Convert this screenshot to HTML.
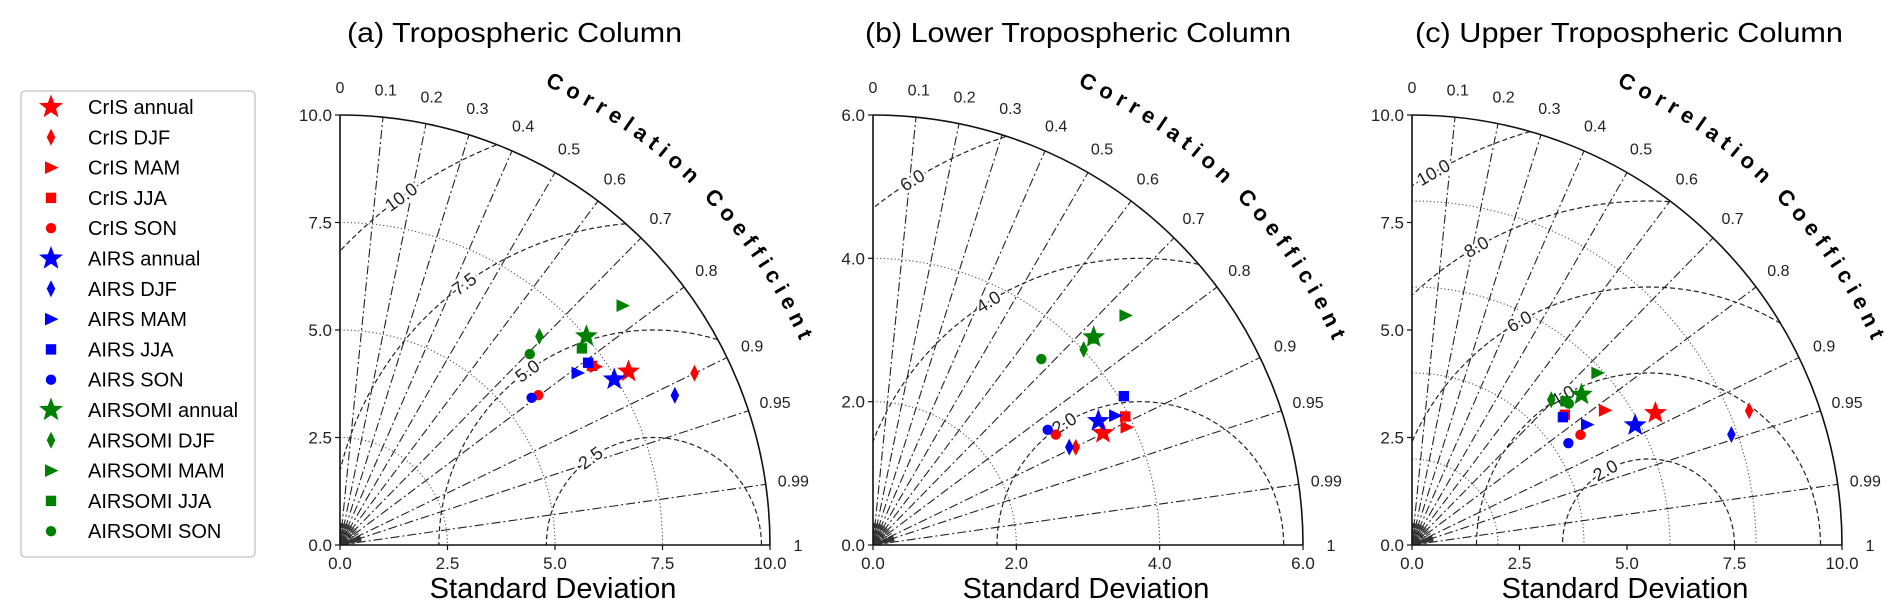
<!DOCTYPE html>
<html><head><meta charset="utf-8">
<style>
html,body{margin:0;padding:0;background:#fff;}
svg{display:block;font-family:"Liberation Sans",Arial,sans-serif;}
</style></head>
<body>
<svg id="fig" width="1892" height="615" viewBox="0 0 1892 615" xmlns="http://www.w3.org/2000/svg">
  <g id="legend">
    <rect x="21" y="91" width="234" height="466" rx="4" fill="#fff" stroke="#cccccc" stroke-width="1.5"/>
  </g>
</svg>
<script>
// ---------- data ----------
const seriesNames = ["CrIS annual","CrIS DJF","CrIS MAM","CrIS JJA","CrIS SON",
  "AIRS annual","AIRS DJF","AIRS MAM","AIRS JJA","AIRS SON",
  "AIRSOMI annual","AIRSOMI DJF","AIRSOMI MAM","AIRSOMI JJA","AIRSOMI SON"];
const seriesColors = ["red","red","red","red","red","blue","blue","blue","blue","blue","green","green","green","green","green"];
const seriesShapes = ["star","diamond","tri","square","circle","star","diamond","tri","square","circle","star","diamond","tri","square","circle"];

// panel (a) Tropospheric Column: standard deviation and correlation
const stdA  = [7.83,9.16,7.25,7.19,5.78, 7.45,8.53,6.82,7.16,5.62, 7.51,6.71,8.61,7.25,6.26];
const corrA = [0.857,0.900,0.820,0.815,0.798, 0.856,0.913,0.810,0.806,0.793, 0.763,0.691,0.763,0.776,0.705];
// panel (b) Lower Tropospheric Column
const stdB  = [3.57,3.14,3.90,3.95,2.98, 3.59,3.06,3.83,4.07,2.92, 4.23,4.01,4.76,4.21,3.50];
const corrB = [0.899,0.901,0.907,0.891,0.856, 0.876,0.895,0.882,0.860,0.835, 0.728,0.733,0.740,0.729,0.671];
// panel (c) Upper Tropospheric Column
const stdC  = [6.44,8.44,5.47,4.67,4.68, 5.89,7.86,4.94,4.60,4.34, 5.27,4.68,5.88,4.89,4.91];
const corrC = [0.879,0.929,0.820,0.761,0.837, 0.881,0.945,0.824,0.763,0.838, 0.748,0.692,0.733,0.730,0.743];

const corrTicks = [0,0.1,0.2,0.3,0.4,0.5,0.6,0.7,0.8,0.9,0.95,0.99,1];
const corrTickLabels = ["0","0.1","0.2","0.3","0.4","0.5","0.6","0.7","0.8","0.9","0.95","0.99","1"];
const stdTicksA = [0,2.5,5,7.5,10];
const stdTicksB = [0,2,4,6];
const stdTicksC = [0,2.5,5,7.5,10];
const stdTickLabelsA = ["0.0","2.5","5.0","7.5","10.0"];
const stdTickLabelsB = ["0.0","2.0","4.0","6.0"];
const stdTickLabelsC = ["0.0","2.5","5.0","7.5","10.0"];
const stdGridA = [2.5,5,7.5];
const stdGridB = [2,4];
const stdGridC = [2,4,6,8];
const rmsLevelsA = [2.5,5,7.5,10];
const rmsLevelsB = [2,4,6];
const rmsLevelsC = [2,4,6,8,10];
const rmsLabelsA = ["2.5","5.0","7.5","10.0"];
const rmsLabelsB = ["2.0","4.0","6.0"];
const rmsLabelsC = ["2.0","4.0","6.0","8.0","10.0"];
const refStdA = 7.3, refStdB = 3.73, refStdC = 5.5;
const titles = ["(a) Tropospheric Column","(b) Lower Tropospheric Column","(c) Upper Tropospheric Column"];

// ---------- drawing ----------
const NS = "http://www.w3.org/2000/svg";
const svg = document.getElementById("fig");
function mk(tag, attrs, parent){
  const e = document.createElementNS(NS, tag);
  for (const k in attrs) e.setAttribute(k, attrs[k]);
  (parent||svg).appendChild(e);
  return e;
}
function markerPath(shape, s){
  if (shape==="star"){
    let p=""; for(let i=0;i<10;i++){const r=i%2?s*0.42:s; const a=-Math.PI/2+i*Math.PI/5; p+=(i?"L":"M")+(r*Math.cos(a)).toFixed(2)+","+(r*Math.sin(a)).toFixed(2);} return p+"Z";
  }
  if (shape==="diamond") return `M0,${-s}L${s*0.5},0L0,${s}L${-s*0.5},0Z`;
  if (shape==="tri") return `M${s},0L${-s*0.8},${-s*0.85}L${-s*0.8},${s*0.85}Z`;
  if (shape==="square") return `M${-s*0.8},${-s*0.8}H${s*0.8}V${s*0.8}H${-s*0.8}Z`;
  return "";
}
function drawMarker(shape, color, x, y, s, parent){
  if (shape==="circle") return mk("circle",{cx:x,cy:y,r:s*0.8,fill:color},parent);
  return mk("path",{d:markerPath(shape,s),transform:`translate(${x},${y})`,fill:color},parent);
}
const markerSize = {star:12,diamond:8.5,tri:7.5,square:6.5,circle:6.5};

// legend
const lg = document.getElementById("legend");
seriesNames.forEach((n,i)=>{
  const y = 107 + i*30.3;
  const g = mk("g",{},lg);
  
  
  drawMarker(seriesShapes[i], seriesColors[i], 51, y, markerSize[seriesShapes[i]]*(seriesShapes[i]==="star"?1.05:1), g);
  const t = mk("text",{x:88,y:y+7,"font-size":20,fill:"#000"},g);
  t.textContent = n;
});

const panels = [
  {id:"a", ox:340, smax:10, std:stdA, corr:corrA, ticks:stdTicksA, tickLabels:stdTickLabelsA, grid:stdGridA, rms:rmsLevelsA, rmsLab:rmsLabelsA, ref:refStdA, labAng:126, title:titles[0], tx:347, tw:335},
  {id:"b", ox:873, smax:6, std:stdB, corr:corrB, ticks:stdTicksB, tickLabels:stdTickLabelsB, grid:stdGridB, rms:rmsLevelsB, rmsLab:rmsLabelsB, ref:refStdB, labAng:122, title:titles[1], tx:865, tw:426},
  {id:"c", ox:1412, smax:10, std:stdC, corr:corrC, ticks:stdTicksC, tickLabels:stdTickLabelsC, grid:stdGridC, rms:rmsLevelsC, rmsLab:rmsLabelsC, ref:refStdC, labAng:120, title:titles[2], tx:1415, tw:428}
];
const OY = 545, R = 430;

panels.forEach(P=>{
  const g = mk("g",{});
  
  
  const k = R / P.smax;
  const X = (s,c)=> P.ox + s*c*k;
  const Y = (s,c)=> OY - s*Math.sqrt(Math.max(0,1-c*c))*k;
  const px = u => P.ox + u*k, py = v => OY - v*k;

  // title
  const tt = mk("text",{x:P.tx,y:42,"font-size":28,textLength:P.tw,lengthAdjust:"spacingAndGlyphs",fill:"#000"},g);
  tt.textContent = P.title;
  
  

  // std dotted grid arcs
  P.grid.forEach(s=>{
    const r = s*k;
    const a = mk("path",{d:`M${P.ox},${OY-r}A${r},${r} 0 0 1 ${P.ox+r},${OY}`,fill:"none",stroke:"#555","stroke-width":1.1,"stroke-dasharray":"1.2,2.4"},g);
    
    
  });

  // correlation lines
  corrTicks.forEach(c=>{
    if (c===0||c===1) return;
    const l = mk("line",{x1:P.ox,y1:OY,x2:X(P.smax,c),y2:Y(P.smax,c),stroke:"#222","stroke-width":1.1,"stroke-dasharray":"9,3,2,3"},g);
    
    
  });
  // fine lines near origin
  [0.05,0.15,0.25,0.35,0.45,0.55,0.65,0.75,0.85,0.91,0.92,0.93,0.94,0.96,0.97,0.98].forEach(c=>{
    const ang = Math.acos(c);
    mk("line",{x1:P.ox,y1:OY,x2:P.ox+22*Math.cos(ang),y2:OY-22*Math.sin(ang),stroke:"#333","stroke-width":1},g);
  });
  [3,6,9,12,15].forEach(r=>{
    mk("path",{d:`M${P.ox},${OY-r}A${r},${r} 0 0 1 ${P.ox+r},${OY}`,fill:"none",stroke:"#333","stroke-width":0.9},g);
  });

  // RMS dashed arcs centred at reference
  P.rms.forEach((rr,i)=>{
    let d="", pen=false;
    for (let j=0;j<=720;j++){
      const th = Math.PI*j/720;
      const u = P.ref + rr*Math.cos(th), v = rr*Math.sin(th);
      const ok = u>=0 && (u*u+v*v) <= P.smax*P.smax;
      if (ok){ d += (pen?"L":"M")+px(u).toFixed(1)+","+py(v).toFixed(1); pen=true; } else pen=false;
    }
    const a = mk("path",{d:d,fill:"none",stroke:"#222","stroke-width":1.2,"stroke-dasharray":"5,3"},g);
    
    
    const th = P.labAng*Math.PI/180;
    const lu = P.ref + rr*Math.cos(th), lv = rr*Math.sin(th);
    if (lu>0 && lu*lu+lv*lv < P.smax*P.smax){
      const rot = -(P.labAng-90);
      const t = mk("text",{x:px(lu),y:py(lv),"font-size":18,"text-anchor":"middle","dominant-baseline":"central",transform:`rotate(${rot} ${px(lu)} ${py(lv)})`,fill:"#222",stroke:"#fff","stroke-width":5,"paint-order":"stroke"},g);
      t.textContent = P.rmsLab[i];
      
      
    }
  });

  // outer arc and axes
  mk("path",{d:`M${P.ox},${OY-R}A${R},${R} 0 0 1 ${P.ox+R},${OY}`,fill:"none",stroke:"#111","stroke-width":1.6},g);
  mk("line",{x1:P.ox,y1:OY,x2:P.ox,y2:OY-R,stroke:"#111","stroke-width":1.6},g);
  mk("line",{x1:P.ox,y1:OY,x2:P.ox+R,y2:OY,stroke:"#111","stroke-width":1.6},g);

  // std ticks
  P.ticks.forEach((s,i)=>{
    mk("line",{x1:P.ox-5,y1:py(s),x2:P.ox,y2:py(s),stroke:"#111","stroke-width":1.2},g);
    mk("line",{x1:px(s),y1:OY,x2:px(s),y2:OY+5,stroke:"#111","stroke-width":1.2},g);
    const ty = mk("text",{x:P.ox-8,y:py(s)+6,"font-size":17,"text-anchor":"end",fill:"#222"},g);
    ty.textContent = P.tickLabels[i];
    
    
    const tx = mk("text",{x:px(s),y:OY+24,"font-size":17,"text-anchor":"middle",fill:"#222"},g);
    tx.textContent = P.tickLabels[i];
    
    
  });

  // correlation tick labels
  corrTicks.forEach((c,i)=>{
    const ang = Math.acos(c), rr = R*1.065;
    const t = mk("text",{x:P.ox+rr*Math.cos(ang),y:OY-rr*Math.sin(ang)+6,"font-size":16,"text-anchor":"middle",fill:"#222"},g);
    t.textContent = corrTickLabels[i];
    
    
  });

  // curved axis title
  const rc = R*1.17, a1 = 66*Math.PI/180, a2 = 24*Math.PI/180;
  const pid = "cpath"+P.id;
  mk("path",{id:pid,d:`M${P.ox+rc*Math.cos(a1)},${OY-rc*Math.sin(a1)}A${rc},${rc} 0 0 1 ${P.ox+rc*Math.cos(a2)},${OY-rc*Math.sin(a2)}`,fill:"none",stroke:"none"},g);
  const ct = mk("text",{"font-size":22,"font-weight":"bold",fill:"#000"},g);
  
  
  const tp = mk("textPath",{href:"#"+pid,textLength:(rc*(a1-a2)).toFixed(0),lengthAdjust:"spacing"},ct);
  tp.textContent = "Correlation Coefficient";

  // x axis title
  const xt = mk("text",{x:P.ox+R/2-2,y:598,"font-size":29,"text-anchor":"middle",fill:"#000"},g);
  xt.textContent = "Standard Deviation";
  
  

  // points
  P.std.forEach((s,i)=>{
    const m = drawMarker(seriesShapes[i], seriesColors[i], X(s,P.corr[i]), Y(s,P.corr[i]), markerSize[seriesShapes[i]], g);
    
    
  });
});
</script>
</body></html>
